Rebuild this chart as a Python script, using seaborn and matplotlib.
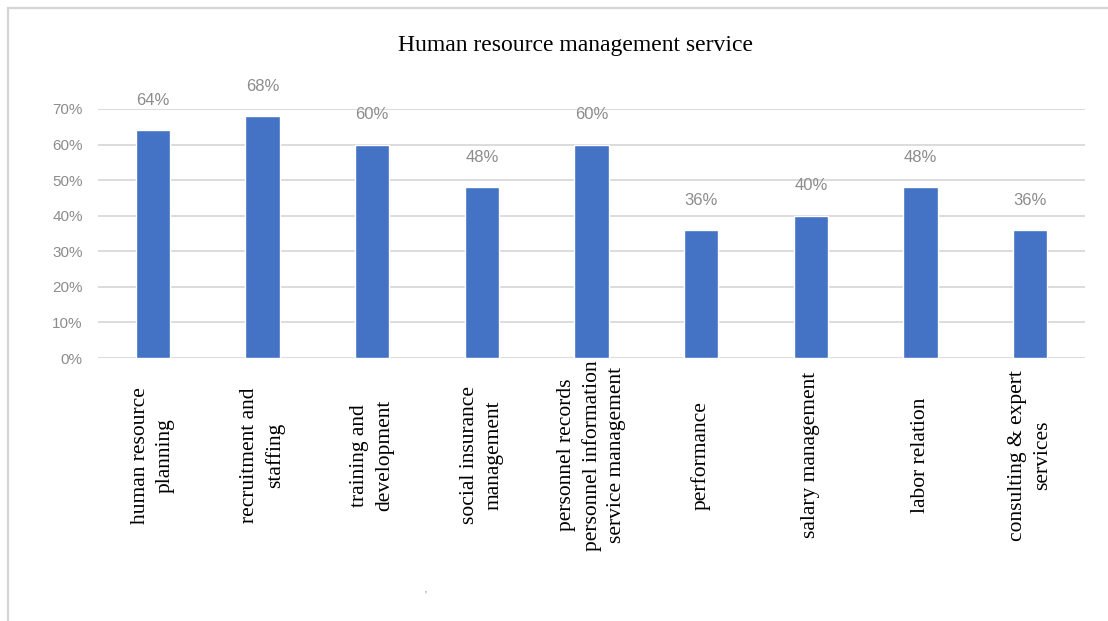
import matplotlib
matplotlib.use("Agg")
import matplotlib.pyplot as plt
import seaborn as sns
import pandas as pd
from matplotlib.lines import Line2D
from matplotlib.ticker import FuncFormatter

categories = [
    "human resource\nplanning",
    "recruitment and\nstaffing",
    "training and\ndevelopment",
    "social insurance\nmanagement",
    "personnel records\npersonnel information\nservice management",
    "performance",
    "salary management",
    "labor relation",
    "consulting & expert\nservices",
]
values = [0.64, 0.68, 0.60, 0.48, 0.60, 0.36, 0.40, 0.48, 0.36]
yticks = [0, 0.1, 0.2, 0.3, 0.4, 0.5, 0.6, 0.7]
title = "Human resource management service"

sns.set_theme(style="white")
plt.rcParams["font.family"] = ["Liberation Serif", "DejaVu Serif"]
num_font = "Liberation Sans"

W, H = 1108, 621
fig = plt.figure(figsize=(W / 100, H / 100), dpi=100)
left, right, top, bottom = 98, 1085, 109, 358
ax = fig.add_axes([left / W, 1 - bottom / H, (right - left) / W, (bottom - top) / H])

df = pd.DataFrame({"cat": categories, "val": values})
sns.barplot(data=df, x="cat", y="val", color="#4472C4", saturation=1, width=0.315, ax=ax)

ax.set_ylim(0, 0.7)
ax.set_xlim(-0.5, len(categories) - 0.5)
ax.set_yticks(yticks)
ax.yaxis.set_major_formatter(FuncFormatter(lambda v, p: f"{v*100:.0f}%"))
for lab in ax.get_yticklabels():
    lab.set_fontfamily(num_font)
    lab.set_fontsize(11)
    lab.set_color("#8c8c8c")
ax.tick_params(axis="y", length=0, pad=11)
ax.tick_params(axis="x", length=0, pad=70)
ax.grid(axis="y", color="#d9d9d9", linewidth=1.3)
ax.set_axisbelow(True)
for s in ax.spines.values():
    s.set_visible(False)
ax.set_xlabel("")
ax.set_ylabel("")

ax.set_xticks(range(len(categories)))
ax.set_xticklabels(categories, rotation=90, fontsize=15.5, va="center", ha="center",
                   multialignment="center", color="black", linespacing=1.4)

for i, v in enumerate(values):
    ax.annotate(f"{v*100:.0f}%", (i, v), xytext=(0, 16), textcoords="offset points",
                ha="center", va="bottom", fontsize=12, color="#8c8c8c",
                family=num_font, annotation_clip=False)

fig.text(575 / W, 1 - 45 / H, title, ha="center", va="center", fontsize=17,
         family="Liberation Serif", color="black")

# frame lines
fig.add_artist(Line2D([8 / W, 1], [1 - 8 / H, 1 - 8 / H], color="#d4d4d4", linewidth=1.6,
                      transform=fig.transFigure))
fig.add_artist(Line2D([8 / W, 8 / W], [0, 1 - 8 / H], color="#d4d4d4", linewidth=1.6,
                      transform=fig.transFigure))
fig.text(426 / W, 1 - 595 / H, "'", ha="center", va="center", fontsize=8, color="#888888")

fig.savefig("out.png", dpi=100)
